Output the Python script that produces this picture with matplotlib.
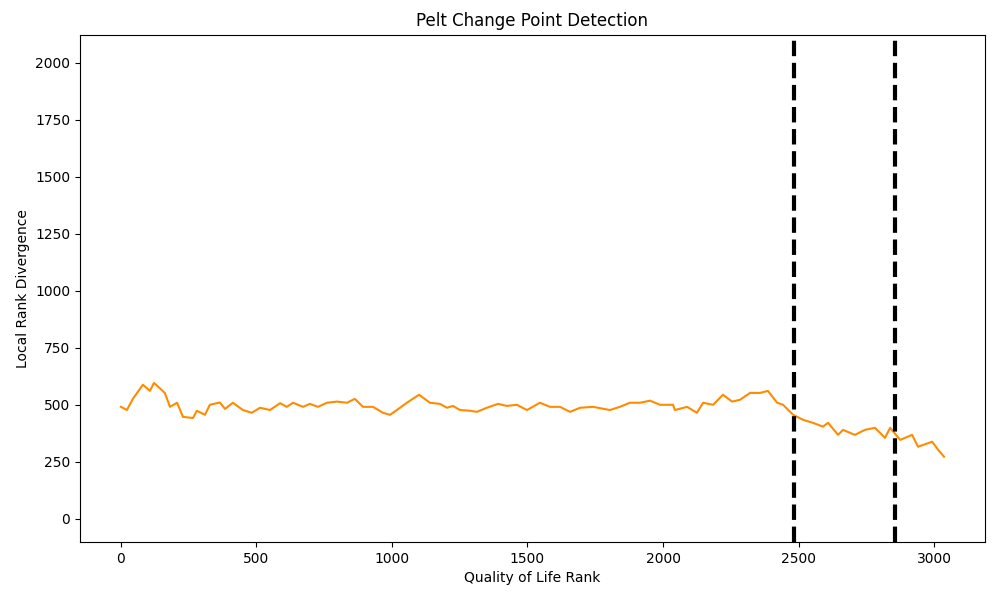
import matplotlib
matplotlib.use('Agg')
import matplotlib.pyplot as plt

# values (rank, divergence)
ranks = [0, 22, 44, 81, 107, 122, 162, 181, 207, 229, 266, 280, 310, 328, 365, 384,
         413, 450, 483, 513, 550, 587, 612, 635, 672, 697, 727, 760, 797, 834, 863,
         893, 930, 967, 993, 1018, 1055, 1100, 1140, 1177, 1203, 1225, 1251, 1288,
         1313, 1350, 1391, 1424, 1461, 1498, 1546, 1583, 1620, 1657, 1694, 1742,
         1804, 1841, 1878, 1915, 1952, 1989, 2037, 2044, 2089, 2125, 2148, 2185,
         2221, 2255, 2284, 2321, 2358, 2387, 2421, 2443, 2480, 2517, 2553, 2590,
         2609, 2646, 2664, 2708, 2745, 2782, 2819, 2838, 2875, 2919, 2941, 2993,
         3015, 3037]
divergence = [491, 477, 526, 588, 561, 596, 552, 491, 509, 447, 442, 474, 456, 500,
              510, 482, 509, 477, 465, 487, 477, 507, 491, 509, 491, 504, 491, 509,
              514, 509, 526, 491, 491, 465, 456, 477, 509, 544, 509, 504, 487, 495,
              477, 474, 469, 487, 504, 495, 500, 477, 509, 491, 491, 469, 487, 491,
              477, 491, 509, 509, 518, 500, 500, 477, 491, 465, 509, 500, 544, 514,
              522, 552, 552, 561, 509, 500, 456, 434, 421, 404, 421, 368, 390, 368,
              390, 399, 355, 399, 346, 368, 316, 338, 303, 272]
change_points = [2485, 2855]

fig, ax = plt.subplots(figsize=(10, 6), dpi=100)
ax.plot(ranks, divergence, color='darkorange', linewidth=1.5)
for cp in change_points:
    ax.axvline(cp, color='black', linestyle='--', linewidth=3)

ax.set_xlim(-151, 3188)
ax.set_ylim(-101, 2123)
ax.set_title('Pelt Change Point Detection')
ax.set_xlabel('Quality of Life Rank')
ax.set_ylabel('Local Rank Divergence')
plt.subplots_adjust(left=0.08, right=0.985, top=0.942, bottom=0.097)
plt.savefig('out.png')
